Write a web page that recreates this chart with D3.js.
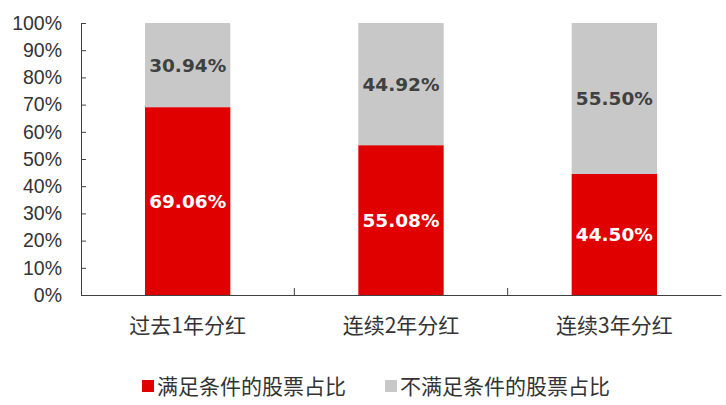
<!DOCTYPE html>
<html><head><meta charset="utf-8">
<script src="https://cdn.jsdelivr.net/npm/d3@7"></script>
<style>body{margin:0;background:#fff;}svg{display:block;}</style>
</head><body>
<svg id="chart" width="726" height="405"></svg>
<script>
const categories = ["过去1年分红", "连续2年分红", "连续3年分红"];
const meetValues = [69.06, 55.08, 44.50];
const notMeetValues = [30.94, 44.92, 55.50];
const seriesNames = ["满足条件的股票占比", "不满足条件的股票占比"];
const yTicks = [0, 10, 20, 30, 40, 50, 60, 70, 80, 90, 100];

const colors = ["#e00000", "#c8c8c8"];
const svg = d3.select("#chart");
const mLeft = 81, mRight = 721, mTop = 23, mBottom = 295;

const x = d3.scaleBand().domain(categories).range([mLeft, mRight]).padding(0);
const y = d3.scaleLinear().domain([0, 100]).range([mBottom, mTop]);
const barW = x.bandwidth() * 0.4;

const rows = categories.map((c, i) => ({cat: c, v: [meetValues[i], notMeetValues[i]]}));
rows.forEach(r => {
  let acc = 0;
  r.v.forEach((val, k) => {
    const y0 = acc, y1 = acc + val; acc = y1;
    const cx = x(r.cat) + x.bandwidth() / 2;
    svg.append("rect")
      .attr("x", cx - barW / 2).attr("width", barW)
      .attr("y", y(y1)).attr("height", y(y0) - y(y1))
      .attr("fill", colors[k]);
    svg.append("text")
      .attr("x", cx).attr("y", (y(y0) + y(y1)) / 2)
      .attr("dy", "0.36em").attr("text-anchor", "middle")
      .attr("font-family", "DejaVu Sans, sans-serif").attr("font-weight", "bold")
      .attr("font-size", 18.5)
      .attr("fill", k === 0 ? "#ffffff" : "#404040")
      .text(val.toFixed(2) + "%");
  });
});

// Y axis
const yAxis = svg.append("g").attr("transform", `translate(${mLeft},0)`)
  .call(d3.axisLeft(y).tickValues(yTicks).tickFormat(d => d + "%").tickSizeInner(-5).tickSizeOuter(0).tickPadding(19));
yAxis.select(".domain").attr("stroke", "#404040");
yAxis.selectAll(".tick line").attr("stroke", "#404040");
yAxis.selectAll("text").attr("font-family", "Liberation Sans, Arial, sans-serif").attr("font-size", 19.5).attr("fill", "#333");

// X axis
const xAxis = svg.append("g").attr("transform", `translate(0,${mBottom})`)
  .call(d3.axisBottom(x).tickSize(0).tickPadding(23));
xAxis.select(".domain").attr("stroke", "#404040");
xAxis.selectAll("text").attr("font-family", "Noto Sans CJK SC, sans-serif").attr("font-size", 21).attr("fill", "#333");
categories.slice(1).forEach(c => {
  svg.append("line").attr("x1", x(c)).attr("x2", x(c))
    .attr("y1", mBottom).attr("y2", mBottom - 7).attr("stroke", "#404040");
});

// Legend
const legendX = [142, 385];
seriesNames.forEach((n, k) => {
  svg.append("rect").attr("x", legendX[k]).attr("y", 380).attr("width", 12).attr("height", 12).attr("fill", colors[k]);
  svg.append("text").attr("x", legendX[k] + 15).attr("y", 386).attr("dy", "0.36em")
    .attr("font-family", "Noto Sans CJK SC, sans-serif").attr("font-size", 21).attr("fill", "#333").text(n);
});
</script>
</body></html>
